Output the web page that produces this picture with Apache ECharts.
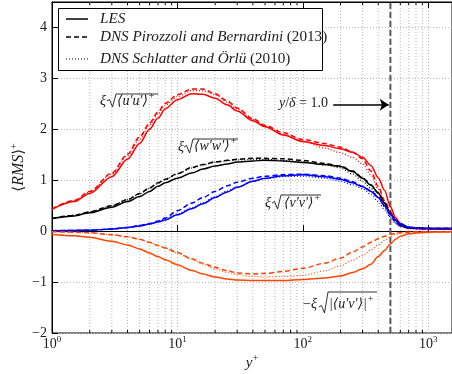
<!DOCTYPE html>
<html>
<head>
<meta charset="utf-8">
<script src="https://cdn.jsdelivr.net/npm/echarts@6/dist/echarts.min.js"></script>
<style>
  html, body { margin: 0; padding: 0; background: #fff; }
  #chart { width: 452px; height: 374px; }
</style>
</head>
<body>
<div id="chart"></div>
<script>
// y+ stations shared by every profile
const yPlus = [1, 1.5, 2, 3, 4, 5, 6, 7, 8, 10, 13, 16, 20, 25, 30, 40, 50, 70, 100, 150,
  200, 250, 300, 350, 400, 450, 500, 550, 600, 700, 850, 1000, 1250, 1550];

// xi*sqrt(<u'u'>+)
const uuLes = [0.43, 0.58, 0.74, 1.07, 1.41, 1.72, 2.00, 2.22, 2.40, 2.58, 2.70, 2.69, 2.61, 2.48, 2.36, 2.17, 2.05, 1.89, 1.76, 1.68,
  1.62, 1.55, 1.45, 1.29, 1.05, 0.80, 0.48, 0.27, 0.15, 0.07, 0.05, 0.05, 0.04, 0.04];
const uuPB = [0.44, 0.60, 0.78, 1.14, 1.51, 1.85, 2.12, 2.34, 2.51, 2.68, 2.79, 2.79, 2.70, 2.56, 2.42, 2.21, 2.08, 1.93, 1.80, 1.72,
  1.65, 1.55, 1.42, 1.18, 0.88, 0.60, 0.38, 0.22, 0.12, 0.06, 0.05, 0.04, 0.04, 0.04];
const uuSO = [0.43, 0.59, 0.77, 1.12, 1.48, 1.80, 2.08, 2.30, 2.47, 2.64, 2.76, 2.76, 2.68, 2.53, 2.40, 2.19, 2.06, 1.90, 1.77, 1.63,
  1.54, 1.45, 1.32, 1.10, 0.82, 0.56, 0.35, 0.19, 0.10, 0.05, 0.04, 0.04, 0.04, 0.04];

// xi*sqrt(<w'w'>+)
const wwLes = [0.25, 0.30, 0.36, 0.47, 0.58, 0.68, 0.78, 0.88, 0.95, 1.04, 1.14, 1.22, 1.28, 1.32, 1.36, 1.38, 1.39, 1.38, 1.35, 1.31,
  1.27, 1.17, 1.04, 0.90, 0.75, 0.55, 0.35, 0.22, 0.12, 0.07, 0.06, 0.05, 0.05, 0.05];
const wwPB = [0.25, 0.31, 0.38, 0.50, 0.62, 0.74, 0.85, 0.95, 1.02, 1.13, 1.25, 1.31, 1.36, 1.39, 1.41, 1.43, 1.43, 1.42, 1.39, 1.33,
  1.28, 1.18, 1.05, 0.91, 0.75, 0.55, 0.34, 0.20, 0.11, 0.06, 0.05, 0.05, 0.05, 0.05];
const wwSO = [0.25, 0.31, 0.38, 0.50, 0.62, 0.73, 0.84, 0.94, 1.01, 1.12, 1.24, 1.30, 1.35, 1.38, 1.40, 1.41, 1.41, 1.39, 1.36, 1.30,
  1.24, 1.12, 0.98, 0.84, 0.67, 0.47, 0.28, 0.16, 0.09, 0.05, 0.05, 0.05, 0.05, 0.05];

// xi*sqrt(<v'v'>+)
const vvLes = [0.01, 0.015, 0.02, 0.04, 0.07, 0.10, 0.14, 0.18, 0.22, 0.32, 0.44, 0.54, 0.66, 0.77, 0.86, 0.98, 1.04, 1.09, 1.11, 1.07,
  1.02, 0.95, 0.87, 0.78, 0.66, 0.50, 0.34, 0.22, 0.15, 0.08, 0.06, 0.05, 0.05, 0.05];
const vvPB = [0.01, 0.015, 0.02, 0.04, 0.07, 0.11, 0.15, 0.20, 0.26, 0.40, 0.55, 0.66, 0.78, 0.89, 0.96, 1.04, 1.08, 1.11, 1.12, 1.09,
  1.04, 0.97, 0.88, 0.79, 0.67, 0.50, 0.33, 0.20, 0.12, 0.07, 0.05, 0.05, 0.05, 0.05];
const vvSO = [0.01, 0.015, 0.02, 0.04, 0.07, 0.10, 0.14, 0.19, 0.24, 0.34, 0.46, 0.56, 0.68, 0.79, 0.87, 0.98, 1.03, 1.07, 1.08, 1.04,
  0.98, 0.91, 0.83, 0.72, 0.58, 0.42, 0.27, 0.15, 0.09, 0.06, 0.05, 0.05, 0.05, 0.05];

// -xi*sqrt(|<u'v'>|+)
const uvLes = [-0.065, -0.09, -0.12, -0.20, -0.27, -0.35, -0.43, -0.50, -0.56, -0.66, -0.77, -0.84, -0.90, -0.94, -0.96, -0.97, -0.97, -0.97, -0.95, -0.92,
  -0.88, -0.81, -0.74, -0.65, -0.50, -0.38, -0.25, -0.16, -0.10, -0.05, -0.03, -0.02, -0.015, -0.01];
const uvPB = [-0.01, -0.02, -0.03, -0.07, -0.11, -0.16, -0.22, -0.28, -0.33, -0.42, -0.54, -0.63, -0.71, -0.78, -0.82, -0.84, -0.83, -0.79, -0.73, -0.63,
  -0.53, -0.41, -0.31, -0.22, -0.15, -0.10, -0.06, -0.04, -0.03, -0.02, -0.01, -0.01, -0.01, -0.01];
const uvSO = [-0.01, -0.02, -0.03, -0.07, -0.11, -0.16, -0.22, -0.28, -0.33, -0.43, -0.55, -0.65, -0.74, -0.81, -0.85, -0.89, -0.90, -0.89, -0.87, -0.78,
  -0.68, -0.57, -0.48, -0.37, -0.27, -0.18, -0.11, -0.06, -0.04, -0.02, -0.01, -0.01, -0.01, -0.01];

const yTicks = [-2, -1, 0, 1, 2, 3, 4];
const xMinor = [2, 3, 4, 5, 6, 7, 8, 9, 20, 30, 40, 50, 60, 70, 80, 90, 200, 300, 400, 500, 600, 700, 800, 900];
const deltaPlus = 500;           // y/delta = 1.0
const arrowFrom = [175, 2.48];
const arrowTo = [485, 2.48];

const X_MIN = 1, X_MAX = 1550, Y_MIN = -2, Y_MAX = 4.5;
const serif = "'Liberation Serif', 'DejaVu Serif', serif";
const ink = '#1a1a1a';

const myChart = echarts.init(document.getElementById('chart'), null, { renderer: 'canvas' });

function pairs(vals) {
  return yPlus.map((x, i) => [x, vals[i]]);
}

function profile(vals, color, kind) {
  const ls = { color: color, width: 1.5, type: 'solid' };
  if (kind === 'dash') { ls.type = [5, 3]; ls.width = 1.5; }
  if (kind === 'dot') { ls.type = [1, 2]; ls.width = 1.2; }
  return {
    type: 'line',
    data: pairs(vals),
    showSymbol: false,
    smooth: 0.3,
    smoothMonotone: 'x',
    lineStyle: ls,
    itemStyle: { color: color },
    silent: true,
    z: 3
  };
}

function supLabel(v) {
  const e = Math.log10(v);
  if (Math.abs(e - Math.round(e)) > 1e-6) return '';
  return '{b|10}{s|' + Math.round(e) + '}';
}

// sqrt symbol: radical stroke plus overline
function radical(x0, yBase, yTop, x1) {
  return {
    type: 'polyline',
    shape: { points: [[x0, yBase - 6], [x0 + 2.5, yBase - 7.5], [x0 + 5.5, yBase], [x0 + 9, yTop], [x1, yTop]] },
    style: { stroke: ink, lineWidth: 0.9, fill: null },
    z: 20
  };
}

function txt(x, y, text, rich, size) {
  return {
    type: 'text',
    x: x, y: y, z: 20,
    style: {
      text: text,
      fill: ink,
      font: (size || 14) + 'px ' + serif,
      textVerticalAlign: 'middle',
      textAlign: 'left',
      rich: rich
    }
  };
}

const mathRich = {
  i: { fontStyle: 'italic', fontSize: 14, fontFamily: serif, color: ink },
  t: { fontSize: 14, fontFamily: serif, color: ink, fontStyle: 'italic' },
  s: { fontSize: 9.5, fontFamily: serif, color: ink, padding: [0, 0, 10, 1] }
};
const legendRich = {
  i: { fontStyle: 'italic', fontSize: 15.2, fontFamily: serif, color: ink },
  n: { fontSize: 15.2, fontFamily: serif, color: ink }
};

const option = {
  backgroundColor: '#fff',
  animation: false,
  grid: {
    left: 52, right: 0, top: 2, bottom: 41,
    outerBoundsMode: 'none', containLabel: false,
    show: true, borderColor: '#000', borderWidth: 1, backgroundColor: 'transparent'
  },
  xAxis: [
    {
      type: 'log', logBase: 10, min: X_MIN, max: X_MAX,
      name: '{i|y}{s|+}', nameLocation: 'middle', nameGap: 20, nameMoveOverlap: false,
      nameTextStyle: { rich: { i: { fontStyle: 'italic', fontSize: 15, fontFamily: serif, color: ink }, s: { fontSize: 10, fontFamily: serif, color: ink, padding: [0, 0, 10, 0] } } },
      axisLine: { lineStyle: { color: '#000', width: 1 } },
      axisTick: { inside: true, length: 6, lineStyle: { color: '#000' } },
      axisLabel: {
        margin: 2,
        formatter: supLabel,
        rich: {
          b: { fontSize: 14, fontFamily: serif, color: ink },
          s: { fontSize: 9, fontFamily: serif, color: ink, padding: [0, 0, 9, 0] }
        }
      },
      splitLine: { show: true, lineStyle: { color: '#b5b5b5', type: [1, 2], width: 1 } }
    },
    {
      type: 'log', logBase: 10, min: X_MIN, max: X_MAX, position: 'top',
      axisLine: { show: true, lineStyle: { color: '#000' } },
      axisTick: { inside: true, length: 6, lineStyle: { color: '#000' } },
      axisLabel: { show: false },
      splitLine: { show: false }
    }
  ],
  yAxis: {
    type: 'value', min: Y_MIN, max: Y_MAX, interval: 1,
    name: '{a|\u27E8}{i|RMS}{a|\u27E9}{s|+}', nameLocation: 'middle', nameGap: 23, nameRotate: 90, nameMoveOverlap: false,
    nameTextStyle: {
      rich: {
        a: { fontSize: 15, fontFamily: 'DejaVu Serif', color: ink },
        i: { fontStyle: 'italic', fontSize: 16, fontFamily: serif, color: ink },
        s: { fontSize: 10, fontFamily: serif, color: ink, padding: [0, 0, 10, 0] }
      }
    },
    axisLine: { show: true, lineStyle: { color: '#000', width: 1 } },
    axisTick: { inside: true, length: 6, lineStyle: { color: '#000' } },
    axisLabel: {
      margin: 5, fontSize: 14, fontFamily: serif, color: ink,
      formatter: v => (yTicks.indexOf(v) < 0 ? '' : (v < 0 ? '\u2212' + (-v) : String(v)))
    },
    splitLine: { show: true, lineStyle: { color: '#b5b5b5', type: [1, 2], width: 1 } }
  },
  series: [
    {
      // minor log grid lines and minor ticks
      type: 'custom',
      silent: true,
      z: 1,
      data: xMinor.map(v => [v, 0]),
      encode: { x: 0, y: 1 },
      renderItem: function (params, api) {
        const bot = api.coord([api.value(0), Y_MIN]);
        const top = api.coord([api.value(0), Y_MAX]);
        return {
          type: 'group',
          children: [
            { type: 'line', shape: { x1: bot[0], y1: bot[1], x2: top[0], y2: top[1] }, style: { stroke: '#b5b5b5', lineWidth: 1, lineDash: [1, 2] } },
            { type: 'line', shape: { x1: bot[0], y1: bot[1], x2: bot[0], y2: bot[1] - 3 }, style: { stroke: '#000', lineWidth: 1 } },
            { type: 'line', shape: { x1: top[0], y1: top[1], x2: top[0], y2: top[1] + 3 }, style: { stroke: '#000', lineWidth: 1 } }
          ]
        };
      }
    },
    {
      // boundary-layer edge y/delta = 1
      type: 'line',
      data: [[deltaPlus, Y_MIN], [deltaPlus, Y_MAX]],
      showSymbol: false,
      silent: true,
      z: 2,
      lineStyle: { color: '#5a5a5a', width: 2, type: [6, 3] },
      markLine: {
        silent: true,
        symbol: ['none', 'arrow'],
        symbolSize: 9,
        label: { show: false },
        lineStyle: { color: '#000', width: 1.5, type: 'solid' },
        data: [[{ coord: arrowFrom }, { coord: arrowTo }]]
      }
    },
    profile(uuLes, '#ff0000', 'solid'),
    profile(uuPB, '#ff0000', 'dash'),
    profile(uuSO, '#ff0000', 'dot'),
    profile(wwLes, '#000000', 'solid'),
    profile(wwPB, '#000000', 'dash'),
    profile(wwSO, '#000000', 'dot'),
    profile(vvLes, '#0000ff', 'solid'),
    profile(vvPB, '#0000ff', 'dash'),
    profile(vvSO, '#0000ff', 'dot'),
    profile(uvLes, '#ff4500', 'solid'),
    profile(uvPB, '#ff4500', 'dash'),
    profile(uvSO, '#ff4500', 'dot')
  ],
  graphic: [
    // legend box
    { type: 'rect', shape: { x: 58.5, y: 8.5, width: 264, height: 62 }, style: { fill: '#fff', stroke: '#000', lineWidth: 1 }, z: 30 },
    { type: 'line', shape: { x1: 66, y1: 19, x2: 88, y2: 19 }, style: { stroke: '#000', lineWidth: 1.5 }, z: 31 },
    { type: 'line', shape: { x1: 66, y1: 37, x2: 88, y2: 37 }, style: { stroke: '#000', lineWidth: 1.5, lineDash: [5, 3] }, z: 31 },
    { type: 'line', shape: { x1: 66, y1: 59, x2: 88, y2: 59 }, style: { stroke: '#000', lineWidth: 1.2, lineDash: [1, 2] }, z: 31 },
    Object.assign(txt(100, 19, '{i|LES}', legendRich), { z: 31 }),
    Object.assign(txt(100, 37, '{i|DNS Pirozzoli and Bernardini} {n|(2013)}', legendRich), { z: 31 }),
    Object.assign(txt(100, 59, '{i|DNS Schlatter and \u00D6rl\u00FC} {n|(2010)}', legendRich), { z: 31 }),

    // xi sqrt(<u'u'>)+
    txt(100, 101, '{i|\u03BE}', mathRich),
    radical(107, 107, 94, 158),
    txt(117, 101, '{t|\u27E8u\u2032u\u2032\u27E9}{s|+}', mathRich),
    // xi sqrt(<w'w'>)+
    txt(178, 147, '{i|\u03BE}', mathRich),
    radical(184, 153, 139, 238),
    txt(194, 146, '{t|\u27E8w\u2032w\u2032\u27E9}{s|+}', mathRich),
    // xi sqrt(<v'v'>)+
    txt(265, 203, '{i|\u03BE}', mathRich),
    radical(272, 209, 195, 321),
    txt(284, 203, '{t|\u27E8v\u2032v\u2032\u27E9}{s|+}', mathRich),
    // -xi sqrt(|<u'v'>|)+
    txt(303, 304, '\u2212{i|\u03BE}', mathRich),
    radical(319, 313, 292, 377),
    txt(329, 304, '{t||\u27E8u\u2032v\u2032\u27E9|}{s|+}', mathRich),
    // y/delta = 1.0
    txt(279, 103, '{i|y}/{i|\u03B4} = 1.0', mathRich)
  ]
};

myChart.setOption(option);
</script>
</body>
</html>
